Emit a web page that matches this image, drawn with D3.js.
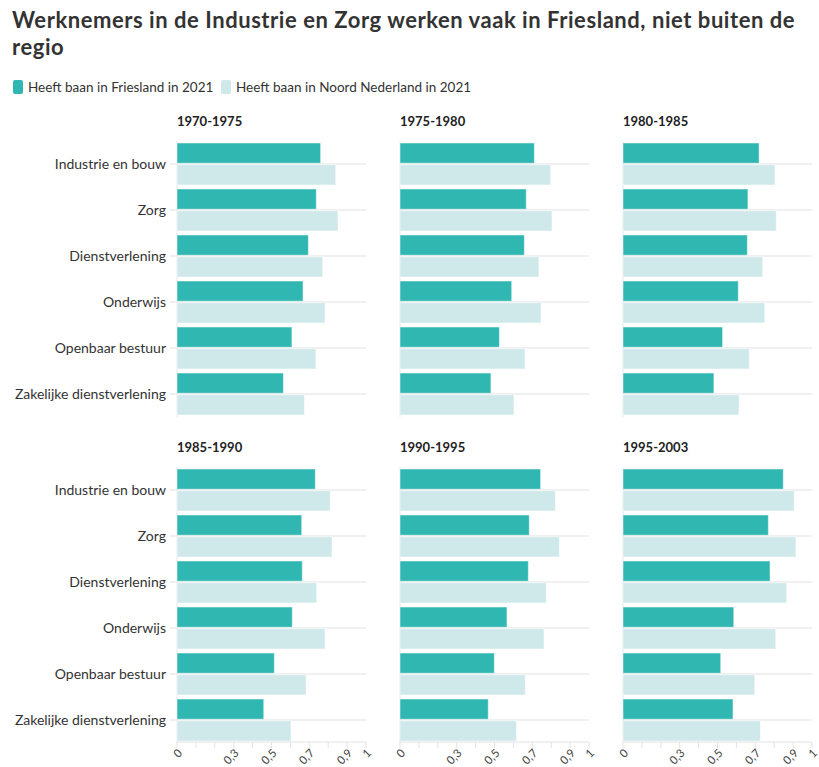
<!DOCTYPE html>
<html>
<head>
<meta charset="utf-8">
<script src="https://cdn.jsdelivr.net/npm/d3@7"></script>
<style>
  body { margin: 0; background: #fff; font-family: Lato, "Noto Sans", sans-serif; }
  .title { font-weight: 700; fill: #333; }
  .legend text { font-size: 13.5px; fill: #333; }
  .panel-title { font-size: 13px; font-weight: 700; fill: #222; }
  .cat text { font-size: 14px; fill: #333; }
  .x.axis text { font-size: 11.5px; fill: #444; }
</style>
</head>
<body>
<svg id="chart"></svg>
<script>
var width = 819,
    height = 767;

var categories = ["Industrie en bouw", "Zorg", "Dienstverlening", "Onderwijs", "Openbaar bestuur", "Zakelijke dienstverlening"];
var periods = ["1970-1975", "1975-1980", "1980-1985", "1985-1990", "1990-1995", "1995-2003"];
var seriesNames = ["Heeft baan in Friesland in 2021", "Heeft baan in Noord Nederland in 2021"];
var colors = ["#31b7b2", "#cfe8ea"];

// one row per period, values in category order
var friesland = [
  [0.76, 0.737, 0.695, 0.667, 0.608, 0.563],
  [0.711, 0.668, 0.658, 0.591, 0.526, 0.481],
  [0.72, 0.661, 0.658, 0.61, 0.527, 0.481],
  [0.732, 0.66, 0.663, 0.61, 0.515, 0.459],
  [0.744, 0.684, 0.679, 0.566, 0.499, 0.467],
  [0.848, 0.769, 0.778, 0.586, 0.517, 0.582]
];
var noordNederland = [
  [0.84, 0.852, 0.771, 0.783, 0.735, 0.674],
  [0.797, 0.804, 0.735, 0.746, 0.661, 0.603],
  [0.804, 0.811, 0.739, 0.75, 0.668, 0.614],
  [0.811, 0.82, 0.739, 0.783, 0.683, 0.603],
  [0.822, 0.843, 0.774, 0.762, 0.663, 0.616],
  [0.906, 0.915, 0.866, 0.808, 0.697, 0.727]
];

var tickValues = [0, 0.1, 0.2, 0.3, 0.4, 0.5, 0.6, 0.7, 0.8, 0.9, 1];
var tickLabels = {0: "0", 0.3: "0,3", 0.5: "0,5", 0.7: "0,7", 0.9: "0,9", 1: "1"};

var colX = [177, 400, 623],
    rowY = [141, 467],
    panelW = 189,
    panelH = 276;

var svg = d3.select("#chart")
    .attr("width", width)
    .attr("height", height);

// title
var title = svg.append("text")
    .attr("class", "title")
    .style("font-size", "22px")
    .style("letter-spacing", "0.55px");
title.append("tspan").attr("x", 12).attr("y", 28)
    .text("Werknemers in de Industrie en Zorg werken vaak in Friesland, niet buiten de");
title.append("tspan").attr("x", 12).attr("y", 55).text("regio");

// legend
var legend = svg.append("g").attr("class", "legend");
var legendX = [13, 221];
seriesNames.forEach(function(name, i) {
  var g = legend.append("g").attr("transform", "translate(" + legendX[i] + ",80)");
  g.append("rect").attr("width", 10).attr("height", 14).attr("rx", 2).attr("fill", colors[i]);
  g.append("text").attr("x", 15).attr("y", 12).text(name);
});

var x = d3.scaleLinear().domain([0, 1]).range([0, panelW]);

var y0 = d3.scaleBand()
    .domain(categories)
    .range([0, panelH])
    .paddingInner(0.087)
    .paddingOuter(0.043);

var y1 = d3.scaleBand()
    .domain([0, 1])
    .range([0, y0.bandwidth()])
    .paddingInner(0.07);

periods.forEach(function(period, p) {
  var col = p % 3,
      row = Math.floor(p / 3);

  var panel = svg.append("g")
      .attr("transform", "translate(" + colX[col] + "," + rowY[row] + ")");

  panel.append("text")
      .attr("class", "panel-title")
      .attr("x", 0)
      .attr("y", -15)
      .text(period);

  // gridlines at category centres
  panel.selectAll(".grid")
      .data(categories)
    .enter().append("line")
      .attr("x1", col === 0 ? -7 : 0)
      .attr("x2", panelW)
      .attr("y1", function(d) { return y0(d) + y0.bandwidth() / 2; })
      .attr("y2", function(d) { return y0(d) + y0.bandwidth() / 2; })
      .attr("stroke", "#ebebeb")
      .attr("stroke-width", 1.5);

  panel.append("line")
      .attr("x1", 0).attr("x2", 0)
      .attr("y1", 0).attr("y2", panelH)
      .attr("stroke", "#e6e6e6");

  if (col === 0) {
    panel.append("g")
        .attr("class", "cat")
        .selectAll("text")
        .data(categories)
      .enter().append("text")
        .attr("x", -11)
        .attr("y", function(d) { return y0(d) + y0.bandwidth() / 2; })
        .attr("dy", "0.35em")
        .style("text-anchor", "end")
        .text(function(d) { return d; });
  }

  var groups = panel.selectAll(".grp")
      .data(categories)
    .enter().append("g")
      .attr("transform", function(d) { return "translate(0," + y0(d) + ")"; });

  groups.selectAll("rect")
      .data(function(d, i) { return [friesland[p][i], noordNederland[p][i]]; })
    .enter().append("rect")
      .attr("x", 0)
      .attr("y", function(d, s) { return y1(s); })
      .attr("width", function(d) { return x(d); })
      .attr("height", y1.bandwidth())
      .attr("fill", function(d, s) { return colors[s]; })
      .attr("stroke", "rgba(255,255,255,0.5)")
      .attr("stroke-width", 1);

  if (row === 1) {
    var axis = panel.append("g")
        .attr("class", "x axis")
        .attr("transform", "translate(0," + (panelH - 1) + ")");
    axis.append("line")
        .attr("x1", 0).attr("x2", panelW)
        .attr("stroke", "#e3e3e3");
    var ticks = axis.selectAll(".tick")
        .data(tickValues)
      .enter().append("g")
        .attr("transform", function(d) { return "translate(" + x(d) + ",0)"; });
    ticks.append("line")
        .attr("y2", 6)
        .attr("stroke", "#e3e3e3");
    ticks.filter(function(d) { return tickLabels[d] !== undefined; })
      .append("text")
        .attr("transform", "translate(3,9) rotate(-45)")
        .attr("dy", "0.35em")
        .style("text-anchor", "end")
        .text(function(d) { return tickLabels[d]; });
  }
});
</script>
</body>
</html>
